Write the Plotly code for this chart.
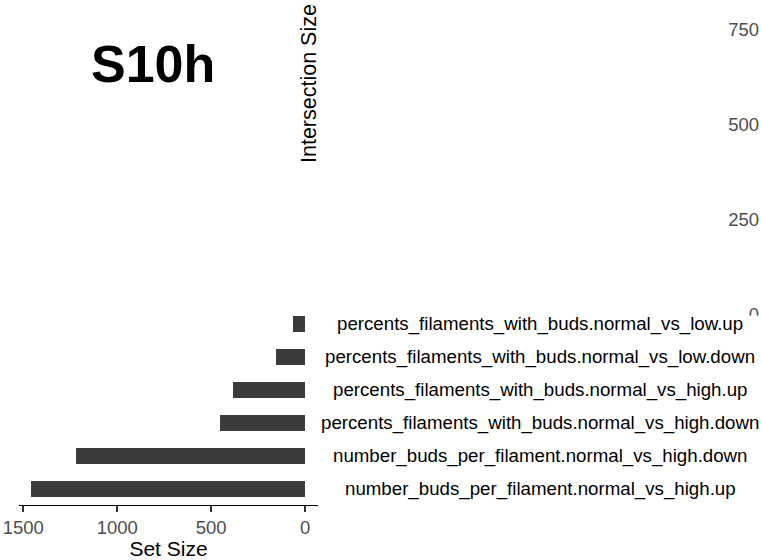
import plotly.graph_objects as go

# Set sizes, listed top row first
set_names = [
    "percents_filaments_with_buds.normal_vs_low.up",
    "percents_filaments_with_buds.normal_vs_low.down",
    "percents_filaments_with_buds.normal_vs_high.up",
    "percents_filaments_with_buds.normal_vs_high.down",
    "number_buds_per_filament.normal_vs_high.down",
    "number_buds_per_filament.normal_vs_high.up",
]
set_sizes = [62, 154, 385, 453, 1219, 1457]
set_size_ticks = [1500, 1000, 500, 0]
intersection_ticks = [0, 250, 500, 750]

FONT = "Liberation Sans, Arial, Helvetica, sans-serif"
W, H = 762, 560

fig = go.Figure()

# Set size bars (horizontal, growing to the left)
fig.add_trace(go.Bar(
    x=set_sizes,
    y=set_names,
    orientation="h",
    marker=dict(color="#3b3b3b", line=dict(width=0)),
    width=0.49,
    xaxis="x",
    yaxis="y",
    showlegend=False,
    hoverinfo="x+y",
))

# Empty intersection-size panel (only its axis shows)
fig.add_trace(go.Scatter(x=[], y=[], xaxis="x2", yaxis="y2",
                         mode="markers", showlegend=False))

# Set names centred beside the bars
for name in set_names:
    fig.add_annotation(
        x=540 / W, xref="paper", y=name, yref="y",
        text=name, showarrow=False, xanchor="center", yanchor="middle",
        font=dict(family=FONT, size=18.7, color="#000000"),
    )

fig.add_annotation(
    x=153 / W, xref="paper", y=1 - 64 / H, yref="paper",
    text="<b>S10h</b>", showarrow=False, xanchor="center", yanchor="middle",
    font=dict(family=FONT, size=52, color="#000000"),
)

fig.add_annotation(
    x=309 / W, xref="paper", y=1 - 84 / H, yref="paper",
    text="Intersection Size", textangle=-90, showarrow=False,
    xanchor="center", yanchor="middle",
    font=dict(family=FONT, size=21.5, color="#000000"),
)

# Matrix panel background sits over the bottom of the intersection axis
fig.add_shape(type="rect", xref="paper", yref="paper",
              x0=0.9, x1=1.0, y0=0, y1=1 - 315.5 / H,
              fillcolor="white", line=dict(width=0), layer="above")

fig.update_layout(
    width=W, height=H,
    margin=dict(l=0, r=0, t=0, b=0, autoexpand=False),
    paper_bgcolor="white", plot_bgcolor="white",
    bargap=0,
    xaxis=dict(
        domain=[19 / W, 318 / W],
        range=[1523, -69],
        tickvals=set_size_ticks,
        ticktext=[str(v) for v in set_size_ticks],
        ticks="outside", ticklen=6, tickwidth=1.6, tickcolor="#333333",
        showline=True, linecolor="#000000", linewidth=1.4,
        showgrid=False, zeroline=False, automargin=False,
        tickfont=dict(family=FONT, size=18.5, color="#4d4d4d"),
        title=dict(text="Set Size", font=dict(family=FONT, size=21, color="#000000"),
                   standoff=4),
        anchor="y",
    ),
    yaxis=dict(
        domain=[55 / H, 252 / H],
        categoryorder="array", categoryarray=set_names,
        range=[5.5, -0.5],
        showticklabels=False, ticks="", showline=False,
        showgrid=False, zeroline=False, automargin=False,
        anchor="x",
    ),
    xaxis2=dict(domain=[0.99, 1.0], visible=False, anchor="y2", automargin=False),
    yaxis2=dict(
        domain=[1 - 314.5 / H, 1 - 18.1 / H],
        range=[0, 780],
        tickvals=intersection_ticks,
        ticktext=[str(v) for v in intersection_ticks],
        ticks="", showline=False, showgrid=False, zeroline=False,
        automargin=False,
        tickfont=dict(family=FONT, size=18.5, color="#4d4d4d"),
        anchor="free", position=1.0, side="left",
        ticklabelstandoff=3,
    ),
)

fig.write_html("out.html")
